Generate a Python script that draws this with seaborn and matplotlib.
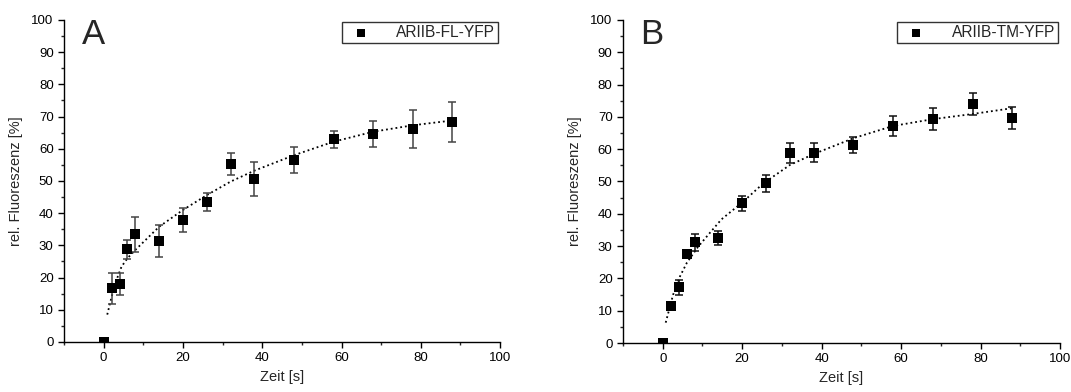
import numpy as np
import matplotlib
matplotlib.use("Agg")
import matplotlib.pyplot as plt
import seaborn as sns
from matplotlib.ticker import MultipleLocator

# Messzeitpunkte [s]
zeit = [0, 2, 4, 6, 8, 14, 20, 26, 32, 38, 48, 58, 68, 78, 88]

# Panel A: ARIIB-FL-YFP
fl_werte = [0, 16.7, 18.1, 28.8, 33.4, 31.3, 37.8, 43.5, 55.2, 50.6, 56.6, 62.9, 64.6, 66.1, 68.2]
fl_fehler = [0, 4.8, 3.4, 3.0, 5.5, 5.0, 3.7, 2.7, 3.4, 5.4, 4.0, 2.7, 4.1, 6.0, 6.2]
fl_fit_x = [0.9, 2, 3, 4.5, 6, 8, 10, 14, 20, 26, 32, 38, 48, 58, 68, 78, 88]
fl_fit_y = [8.5, 14, 18.5, 23.4, 26, 28.6, 31, 35.8, 41, 45.6, 49.8, 53.2, 58, 62.2, 65.3, 67.3, 68.8]

# Panel B: ARIIB-TM-YFP
tm_werte = [0, 11.5, 17.2, 27.6, 31.2, 32.4, 43.2, 49.5, 58.7, 58.9, 61.2, 67.2, 69.3, 74.0, 69.7]
tm_fehler = [0, 1.2, 2.2, 1.3, 2.6, 2.2, 2.3, 2.6, 3.1, 3.0, 2.5, 3.1, 3.3, 3.3, 3.3]
tm_fit_x = [0.75, 2.6, 4.3, 6.1, 8.9, 11.8, 14.8, 20.2, 25.3, 32, 38, 48, 58, 68, 78, 88]
tm_fit_y = [6.3, 14.9, 20.5, 24.9, 29.8, 34, 38.3, 43.7, 49.4, 55.1, 58.5, 63.4, 67.2, 69.3, 70.9, 72.7]

sns.set_style("ticks")
plt.rcParams['font.family'] = ['Liberation Sans', 'DejaVu Sans']


def panel(ax, werte, fehler, fit_x, fit_y, name, buchstabe, err_color):
    """Zeichnet ein Panel mit Messpunkten, Fehlerbalken und Fit-Kurve"""
    sns.lineplot(x=fit_x, y=fit_y, ax=ax, color='black', linestyle=':',
                 linewidth=1.3, zorder=2)
    ax.errorbar(zeit, werte, yerr=fehler, fmt='none', ecolor=err_color,
                elinewidth=1.1, capsize=3, capthick=1.1, zorder=3)
    sns.scatterplot(x=zeit, y=werte, ax=ax, marker='s', s=55, color='black',
                    edgecolor='black', linewidth=0, label=name, zorder=4)

    ax.set_xlim(-10, 100)
    ax.set_ylim(0, 100)
    ax.xaxis.set_major_locator(MultipleLocator(20))
    ax.xaxis.set_minor_locator(MultipleLocator(10))
    ax.yaxis.set_major_locator(MultipleLocator(10))
    ax.yaxis.set_minor_locator(MultipleLocator(5))
    ax.tick_params(which='major', length=4, width=1, labelsize=9.5, colors='black')
    ax.tick_params(which='minor', length=2.5, width=1)
    for s in ['top', 'right']:
        ax.spines[s].set_visible(False)
    for s in ['left', 'bottom']:
        ax.spines[s].set_linewidth(1)
        ax.spines[s].set_color('black')

    ax.set_xlabel("Zeit [s]", fontsize=10.5, labelpad=4)
    ax.set_ylabel("rel. Fluoreszenz [%]", fontsize=10.5, labelpad=6)
    ax.text(0.04, 1.005, buchstabe, transform=ax.transAxes, fontsize=25,
            va='top', ha='left')

    leg = ax.legend(loc='upper right', frameon=True, fancybox=False,
                    fontsize=11.2, borderaxespad=0.1, handletextpad=1.3,
                    handlelength=2.0, borderpad=0.2, markerscale=0.8)
    leg.get_frame().set_edgecolor('black')
    leg.get_frame().set_linewidth(1)


fig = plt.figure(figsize=(10.71, 3.92), dpi=100)
ax_a = fig.add_axes([0.0598, 0.1276, 0.4071, 0.8214])
ax_b = fig.add_axes([0.5817, 0.1250, 0.4080, 0.8240])

panel(ax_a, fl_werte, fl_fehler, fl_fit_x, fl_fit_y, 'ARIIB-FL-YFP', 'A', '#444444')
panel(ax_b, tm_werte, tm_fehler, tm_fit_x, tm_fit_y, 'ARIIB-TM-YFP', 'B', '#111111')

fig.savefig("out.png", dpi=100)
